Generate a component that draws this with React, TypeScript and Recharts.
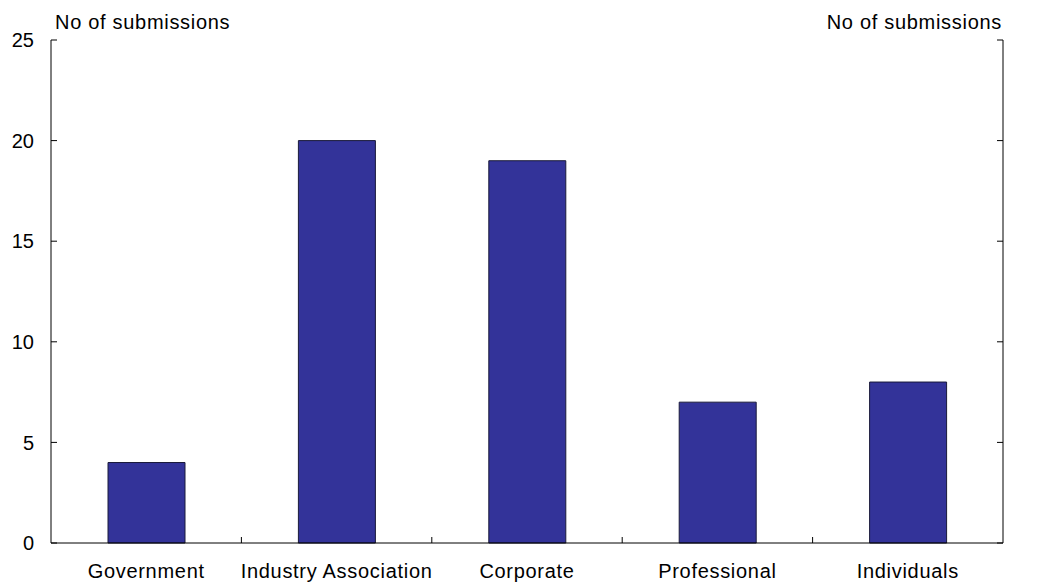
import React from 'react';
import { BarChart, Bar, XAxis, YAxis, ReferenceLine } from 'recharts';

const categories = ['Government', 'Industry Association', 'Corporate', 'Professional', 'Individuals'];
const submissions = [4, 20, 19, 7, 8];
const yTicks = [0, 5, 10, 15, 20, 25];
const axisTitle = 'No of submissions';

const data = categories.map((name, i) => ({ name, value: submissions[i] }));
// category-boundary ticks sit at the start of every category band except the first
const boundaryCategories = categories.slice(1);

const FONT = 'Arial, "Liberation Sans", sans-serif';
const TEXT_STYLE = { fontSize: 20, fontFamily: FONT, letterSpacing: '0.7px' };
const TICK_LEN = 6;

const CategoryTick = (props: any) => {
  const { x, y, payload } = props;
  return (
    <text x={x} y={y} dy="0.71em" textAnchor="middle" fill="#000" style={TEXT_STYLE}>
      {payload.value}
    </text>
  );
};

// Horizontal reference line -> only short inward ticks at both ends
const YTickShape = (props: any) => {
  const { x1, y1, x2, y2 } = props;
  const left = Math.min(x1, x2);
  const right = Math.max(x1, x2);
  return (
    <g>
      <line x1={left} x2={left + TICK_LEN} y1={y1} y2={y2} stroke="#000" strokeWidth={1} />
      <line x1={right - TICK_LEN} x2={right} y1={y1} y2={y2} stroke="#000" strokeWidth={1} />
    </g>
  );
};

// Vertical reference line -> only a short upward tick at the bottom
const XTickShape = (props: any) => {
  const { x1, y1, y2 } = props;
  const bottom = Math.max(y1, y2);
  return <line x1={x1} x2={x1} y1={bottom} y2={bottom - TICK_LEN} stroke="#000" strokeWidth={1} />;
};

export default function App() {
  return (
    <div style={{ position: 'relative', width: 1045, height: 583, fontFamily: FONT }}>
      <style>{'html,body{margin:0;padding:0;overflow:hidden;}'}</style>
      <BarChart
        width={1045}
        height={583}
        data={data}
        margin={{ top: 40, right: 0, bottom: 0, left: 0 }}
        barSize={77}
      >
        <XAxis
          dataKey="name"
          height={40}
          axisLine={{ stroke: '#000' }}
          tickLine={false}
          tickSize={0}
          tickMargin={21}
          tick={CategoryTick}
          interval={0}
        />
        <YAxis
          yAxisId="left"
          domain={[0, 25]}
          ticks={yTicks}
          width={51}
          tickSize={0}
          tickMargin={17}
          axisLine={{ stroke: '#000' }}
          tickLine={false}
          tick={{ fill: '#000', fontSize: 20, fontFamily: FONT }}
          interval={0}
        />
        <YAxis
          yAxisId="right"
          orientation="right"
          domain={[0, 25]}
          ticks={yTicks}
          width={42}
          tickSize={0}
          tickMargin={16}
          axisLine={{ stroke: '#000' }}
          tickLine={false}
          tick={{ fill: '#000', fontSize: 20, fontFamily: FONT }}
          interval={0}
        />
        {yTicks.map((v) => (
          <ReferenceLine key={`y${v}`} yAxisId="left" y={v} shape={YTickShape} ifOverflow="visible" />
        ))}
        {boundaryCategories.map((c) => (
          <ReferenceLine
            key={`x${c}`}
            yAxisId="left"
            x={c}
            position="start"
            shape={XTickShape}
            ifOverflow="visible"
          />
        ))}
        <Bar
          yAxisId="left"
          dataKey="value"
          fill="#333399"
          stroke="#1a1a3a"
          strokeWidth={1}
          isAnimationActive={false}
        />
      </BarChart>
      <div style={{ position: 'absolute', left: 55, top: 11, ...TEXT_STYLE, color: '#000', whiteSpace: 'nowrap' }}>
        {axisTitle}
      </div>
      <div style={{ position: 'absolute', right: 43, top: 11, ...TEXT_STYLE, color: '#000', whiteSpace: 'nowrap' }}>
        {axisTitle}
      </div>
    </div>
  );
}
